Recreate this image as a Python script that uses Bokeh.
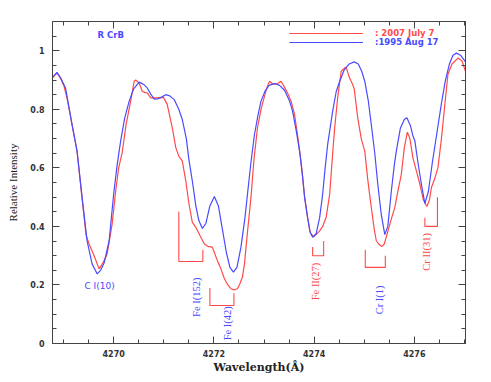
from bokeh.plotting import figure
from bokeh.models import FixedTicker, LinearAxis, Label, Legend, LegendItem, CustomLabelingPolicy
from bokeh.embed import file_html
from bokeh.resources import INLINE

RED = "#ff4a4a"
BLUE = "#4a4aff"

# ---- spectrum 2007 July 7 (red) ----
wl_2007 = [4268.77, 4268.82, 4268.87, 4268.92, 4268.97, 4269.01, 4269.08, 4269.17, 4269.27, 4269.37,
           4269.45, 4269.51, 4269.61, 4269.71, 4269.76, 4269.81, 4269.87, 4269.97, 4270.04, 4270.10,
           4270.17, 4270.25, 4270.34, 4270.41, 4270.44, 4270.51, 4270.57, 4270.62, 4270.67, 4270.74,
           4270.87, 4270.97, 4271.00, 4271.07, 4271.17, 4271.24, 4271.30, 4271.37, 4271.44, 4271.50,
           4271.57, 4271.64, 4271.72, 4271.81, 4271.88, 4271.97, 4272.07, 4272.14, 4272.21, 4272.28,
           4272.34, 4272.40, 4272.47, 4272.52, 4272.57, 4272.61, 4272.67, 4272.74, 4272.80, 4272.87,
           4272.94, 4273.01, 4273.06, 4273.11, 4273.16, 4273.21, 4273.27, 4273.34, 4273.41, 4273.47,
           4273.54, 4273.61, 4273.67, 4273.74, 4273.81, 4273.87, 4273.92, 4273.98, 4274.04, 4274.11,
           4274.17, 4274.24, 4274.31, 4274.37, 4274.41, 4274.47, 4274.54, 4274.60, 4274.64, 4274.70,
           4274.77, 4274.80, 4274.87, 4274.94, 4275.01, 4275.07, 4275.14, 4275.20, 4275.24, 4275.30,
           4275.35, 4275.40, 4275.45, 4275.53, 4275.61, 4275.67, 4275.74, 4275.80, 4275.86, 4275.91,
           4275.97, 4276.04, 4276.11, 4276.18, 4276.25, 4276.30, 4276.34, 4276.40, 4276.47, 4276.54,
           4276.61, 4276.67, 4276.75, 4276.87, 4276.95, 4277.02]
int_2007 = [0.905, 0.915, 0.924, 0.912, 0.895, 0.879, 0.830, 0.748, 0.657, 0.495,
            0.370, 0.340, 0.300, 0.255, 0.268, 0.283, 0.306, 0.408, 0.520, 0.600,
            0.652, 0.750, 0.828, 0.896, 0.900, 0.890, 0.862, 0.858, 0.856, 0.839,
            0.839, 0.841, 0.839, 0.816, 0.737, 0.669, 0.640, 0.623, 0.555, 0.480,
            0.414, 0.397, 0.370, 0.340, 0.332, 0.329, 0.283, 0.255, 0.221, 0.200,
            0.187, 0.183, 0.187, 0.205, 0.227, 0.272, 0.380, 0.499, 0.630, 0.737,
            0.800, 0.845, 0.875, 0.896, 0.888, 0.886, 0.888, 0.896, 0.875, 0.856,
            0.828, 0.782, 0.710, 0.620, 0.500, 0.430, 0.380, 0.365, 0.372, 0.385,
            0.400, 0.431, 0.510, 0.650, 0.737, 0.840, 0.930, 0.940, 0.944, 0.910,
            0.884, 0.870, 0.771, 0.700, 0.657, 0.560, 0.465, 0.390, 0.351, 0.338,
            0.331, 0.340, 0.370, 0.420, 0.465, 0.520, 0.578, 0.670, 0.722, 0.700,
            0.635, 0.590, 0.544, 0.490, 0.468, 0.490, 0.533, 0.560, 0.600, 0.700,
            0.820, 0.920, 0.955, 0.975, 0.965, 0.930]

# ---- spectrum 1995 Aug 17 (blue) ----
wl_1995 = [4268.78, 4268.87, 4268.95, 4269.04, 4269.10, 4269.17, 4269.27, 4269.37, 4269.47, 4269.57,
           4269.67, 4269.74, 4269.81, 4269.91, 4270.00, 4270.07, 4270.14, 4270.22, 4270.31, 4270.40,
           4270.51, 4270.60, 4270.67, 4270.74, 4270.81, 4270.88, 4270.94, 4271.04, 4271.12, 4271.21,
           4271.30, 4271.37, 4271.45, 4271.50, 4271.57, 4271.64, 4271.70, 4271.77, 4271.84, 4271.92,
           4272.01, 4272.09, 4272.17, 4272.25, 4272.32, 4272.39, 4272.46, 4272.54, 4272.62, 4272.67,
           4272.74, 4272.81, 4272.88, 4272.94, 4273.02, 4273.10, 4273.21, 4273.31, 4273.41, 4273.51,
           4273.57, 4273.64, 4273.71, 4273.77, 4273.81, 4273.87, 4273.92, 4273.97, 4274.04, 4274.11,
           4274.17, 4274.22, 4274.27, 4274.37, 4274.44, 4274.51, 4274.60, 4274.70, 4274.80, 4274.88,
           4274.95, 4275.01, 4275.08, 4275.14, 4275.21, 4275.27, 4275.34, 4275.41, 4275.47, 4275.54,
           4275.60, 4275.64, 4275.72, 4275.80, 4275.85, 4275.92, 4275.97, 4276.01, 4276.07, 4276.14,
           4276.21, 4276.28, 4276.36, 4276.45, 4276.54, 4276.62, 4276.70, 4276.77, 4276.84, 4276.92,
           4277.02]
int_1995 = [0.910, 0.926, 0.905, 0.873, 0.815, 0.748, 0.657, 0.500, 0.351, 0.272,
            0.238, 0.250, 0.275, 0.351, 0.510, 0.610, 0.692, 0.770, 0.828, 0.870,
            0.893, 0.885, 0.873, 0.852, 0.835, 0.836, 0.840, 0.850, 0.846, 0.833,
            0.800, 0.765, 0.700, 0.630, 0.555, 0.470, 0.420, 0.393, 0.410, 0.470,
            0.502, 0.470, 0.390, 0.310, 0.260, 0.244, 0.260, 0.329, 0.430, 0.510,
            0.620, 0.714, 0.780, 0.828, 0.862, 0.882, 0.888, 0.882, 0.865, 0.828,
            0.794, 0.730, 0.657, 0.570, 0.499, 0.430, 0.380, 0.363, 0.375, 0.430,
            0.510, 0.600, 0.680, 0.794, 0.860, 0.896, 0.935, 0.955, 0.962, 0.955,
            0.930, 0.896, 0.830, 0.748, 0.650, 0.544, 0.440, 0.372, 0.400, 0.520,
            0.610, 0.657, 0.735, 0.765, 0.771, 0.745, 0.710, 0.692, 0.620, 0.544,
            0.478, 0.520, 0.620, 0.720, 0.820, 0.900, 0.955, 0.985, 0.992, 0.985,
            0.962]

# ---- axes ----
x_ticks = [4270, 4272, 4274, 4276]
x_tick_labels = ["4270", "4272", "4274", "4276"]
x_minor = [4269.0, 4269.5, 4270.5, 4271.0, 4271.5, 4272.5, 4273.0, 4273.5,
           4274.5, 4275.0, 4275.5, 4276.5, 4277.0]
y_ticks = [0, 0.2, 0.4, 0.6, 0.8, 1.0]
y_tick_labels = ["0", "0.2", "0.4", "0.6", "0.8", "1"]
y_minor = [0.05, 0.1, 0.15, 0.25, 0.3, 0.35, 0.45, 0.5, 0.55, 0.65, 0.7, 0.75,
           0.85, 0.9, 0.95, 1.05]

# ---- line identifications ----
id_names = ["Fe I(152)", "Fe I(42)", "Fe II(27)", "Cr I(1)", "Cr II(31)"]
id_text_wl = [4271.65, 4272.27, 4274.03, 4275.30, 4276.25]
id_text_y = [0.158, 0.069, 0.212, 0.149, 0.313]
id_text_color = [BLUE, BLUE, RED, BLUE, RED]
br_x0 = [4271.30, 4271.92, 4273.97, 4275.02, 4276.21]
br_x1 = [4271.78, 4272.40, 4274.19, 4275.42, 4276.46]
br_y_left = [0.45, 0.19, 0.33, 0.32, 0.43]
br_y_bottom = [0.28, 0.13, 0.30, 0.26, 0.40]
br_y_right = [0.32, 0.172, 0.35, 0.30, 0.50]

p = figure(frame_width=413, frame_height=322,
           x_range=(4268.78, 4277.02), y_range=(0, 1.1),
           output_backend="svg", toolbar_location=None,
           min_border_left=52, min_border_right=12, min_border_top=21, min_border_bottom=29,
           background_fill_color="white", border_fill_color="white")
p.xgrid.visible = False
p.ygrid.visible = False
p.outline_line_color = "#444444"

AX = "#444444"
xt = FixedTicker(ticks=x_ticks, minor_ticks=x_minor)
yt = FixedTicker(ticks=y_ticks, minor_ticks=y_minor)

HIDE_ALL = CustomLabelingPolicy(code="""
try { for (let i = 0; i < indices.size; i++) indices.unset(i) } catch (e) {}
return indices
""")

def style(ax, ticker, labels=None):
    ax.ticker = ticker
    ax.axis_line_color = AX
    ax.major_tick_line_color = AX
    ax.minor_tick_line_color = AX
    ax.major_tick_in = 7
    ax.major_tick_out = 0
    ax.minor_tick_in = 4
    ax.minor_tick_out = 0
    if labels is None:
        ax.major_label_text_font_size = "1px"
        ax.major_label_standoff = 0
        ax.major_label_policy = HIDE_ALL
    else:
        ax.major_label_overrides = labels
        ax.major_label_text_font = "DejaVu Sans"
        ax.major_label_text_font_style = "bold"
        ax.major_label_text_color = "#333333"

xb = p.xaxis[0]
style(xb, xt, {t: s for t, s in zip(x_ticks, x_tick_labels)})
xb.major_label_text_font_size = "8px"
xb.major_label_standoff = 6
xb.axis_label = "Wavelength(Å)"
xb.axis_label_text_font = "DejaVu Serif"
xb.axis_label_text_font_style = "bold"
xb.axis_label_text_font_size = "11px"
xb.axis_label_text_color = "#222222"
xb.axis_label_standoff = 1

yl = p.yaxis[0]
style(yl, yt, {t: s for t, s in zip(y_ticks, y_tick_labels)})
yl.major_label_text_font_size = "8px"
yl.major_label_standoff = 8
yl.axis_label = "Relative Intensity"
yl.axis_label_text_font = "Liberation Serif"
yl.axis_label_text_font_style = "normal"
yl.axis_label_text_font_size = "11px"
yl.axis_label_text_color = "#222222"
yl.axis_label_standoff = 8

xa = LinearAxis()
style(xa, xt)
p.add_layout(xa, "above")
yr = LinearAxis()
style(yr, yt)
p.add_layout(yr, "right")

r07 = p.line(wl_2007, int_2007, line_color=RED, line_width=1.2)
r95 = p.line(wl_1995, int_1995, line_color=BLUE, line_width=1.2)

# brackets
xs = [[a, a, b, b] for a, b in zip(br_x0, br_x1)]
ys = [[l, m, m, r] for l, m, r in zip(br_y_left, br_y_bottom, br_y_right)]
p.multi_line(xs, ys, line_color=RED, line_width=1.1)

for name, x, y, c in zip(id_names, id_text_wl, id_text_y, id_text_color):
    p.add_layout(Label(x=x, y=y, text=name, angle=90, angle_units="deg",
                       text_align="center", text_baseline="middle",
                       text_font="Liberation Serif", text_font_size="10.5px",
                       text_color=c))

p.add_layout(Label(x=4269.72, y=0.198, text="C I(10)", text_align="center",
                   text_baseline="middle", text_font="DejaVu Sans",
                   text_font_size="9px", text_color=BLUE))
p.add_layout(Label(x=4269.68, y=1.055, text="R CrB", text_align="left",
                   text_baseline="middle", text_font="DejaVu Sans", text_font_style="bold",
                   text_font_size="8.5px", text_color=BLUE))

def mk_legend(label, rend, color, loc):
    lg = Legend(items=[LegendItem(label=label, renderers=[rend])], location=loc,
                glyph_width=74, glyph_height=8, label_height=8, label_standoff=12,
                padding=0, margin=0, spacing=0, border_line_alpha=0,
                background_fill_alpha=0, label_text_font="DejaVu Sans",
                label_text_font_style="bold", label_text_font_size="8.5px",
                label_text_color=color)
    p.add_layout(lg)

mk_legend(": 2007 July 7", r07, RED, (237, 305.5))
mk_legend(":1995 Aug 17", r95, BLUE, (237, 296.5))

open("out.html", "w").write(file_html(p, INLINE))
